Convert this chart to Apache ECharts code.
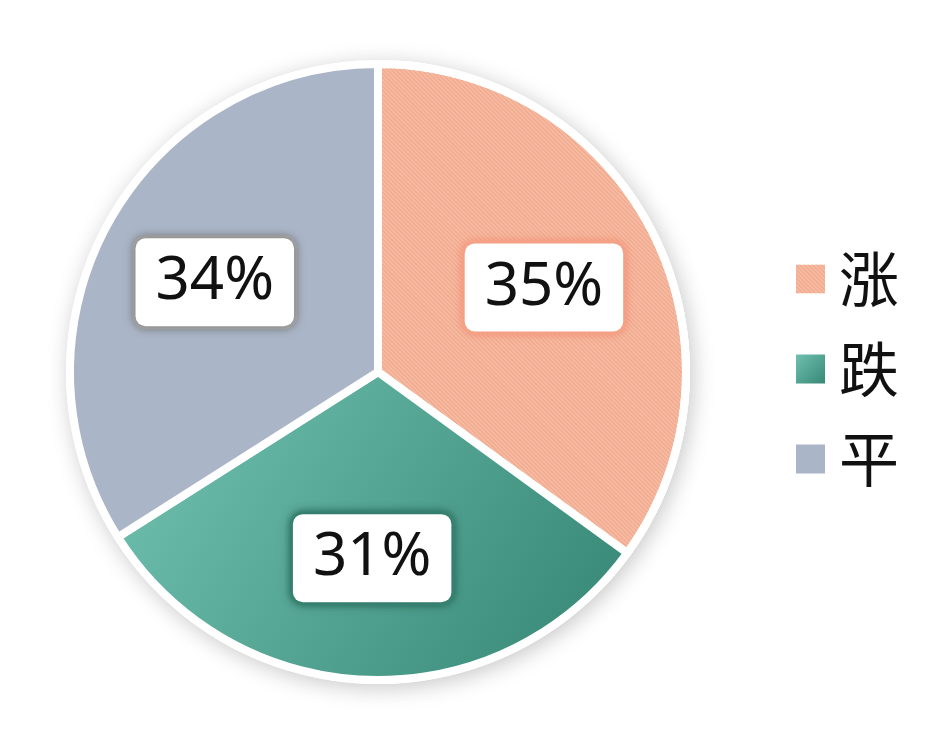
<!DOCTYPE html>
<html>
<head>
<meta charset="utf-8">
<script src="https://cdn.jsdelivr.net/npm/echarts@6/dist/echarts.min.js"></script>
<style>html,body{margin:0;padding:0;background:#fff;}#c{width:947px;height:745px;}</style>
</head>
<body>
<div id="c"></div>
<script>
var categories = ['涨', '跌', '平'];
var values = [35, 31, 34];

var chart = echarts.init(document.getElementById('c'));
var sliceColors = [
  '#f6baa1',
  new echarts.graphic.LinearGradient(0, 0, 1, 1, [
    {offset: 0, color: '#73c4b2'},
    {offset: 1, color: '#348474'}
  ]),
  '#aab5c7'
];
var labelBorders = ['#f6a88e', '#3d8e7d', '#a8a8a8'];
var labelShadows = ['rgba(240,140,110,0.8)', 'rgba(30,90,75,0.8)', 'rgba(100,100,100,0.6)'];

var CX = 378, CY = 372, R = 308;

var mainData = categories.map(function (n, i) {
  var it = {name: n, value: values[i], itemStyle: {color: sliceColors[i]}};
  if (i === 0) {
    it.itemStyle.decal = {
      symbol: 'rect',
      symbolSize: 1,
      dashArrayX: [1, 0],
      dashArrayY: [1, 2],
      rotation: Math.PI / 4,
      color: 'rgba(225,130,100,0.35)'
    };
  }
  return it;
});
var labelData = categories.map(function (n, i) {
  return {
    name: n, value: values[i],
    label: {
      borderColor: labelBorders[i],
      shadowColor: labelShadows[i]
    }
  };
});

chart.setOption({
  backgroundColor: '#ffffff',
  animation: false,
  legend: {
    orient: 'vertical',
    left: 789,
    top: 244,
    itemWidth: 31,
    itemHeight: 31,
    itemGap: 30,
    icon: 'rect',
    data: categories,
    textStyle: {fontSize: 60, color: '#111', fontFamily: 'Noto Sans CJK SC', padding: [0, 0, 0, 8]}
  },
  series: [
    {
      type: 'pie',
      silent: true,
      center: [CX, CY],
      radius: [0, R + 4],
      startAngle: 90,
      label: {show: false},
      labelLine: {show: false},
      itemStyle: {color: '#ffffff', shadowBlur: 22, shadowColor: 'rgba(0,0,0,0.22)', shadowOffsetX: 3, shadowOffsetY: 4},
      data: [{value: 1, name: '_bg'}],
      z: 1
    },
    {
      type: 'pie',
      center: [CX, CY],
      radius: [0, R],
      startAngle: 90,
      clockwise: true,
      label: {show: false},
      labelLine: {show: false},
      itemStyle: {borderColor: '#ffffff', borderWidth: 8},
      data: mainData,
      z: 2
    },
    {
      type: 'pie',
      silent: true,
      center: [CX, CY],
      radius: [R * 0.19, R],
      startAngle: 90,
      clockwise: true,
      itemStyle: {color: 'rgba(0,0,0,0)'},
      labelLine: {show: false},
      label: {
        show: true,
        position: 'inside',
        formatter: '{d}%',
        fontSize: 60,
        fontFamily: 'Noto Sans',
        color: '#111',
        backgroundColor: '#ffffff',
        borderRadius: 10,
        borderWidth: 3,
        padding: [16, 20, 12, 20],
        shadowBlur: 8
      },
      data: labelData,
      z: 3
    }
  ]
});
</script>
</body>
</html>
